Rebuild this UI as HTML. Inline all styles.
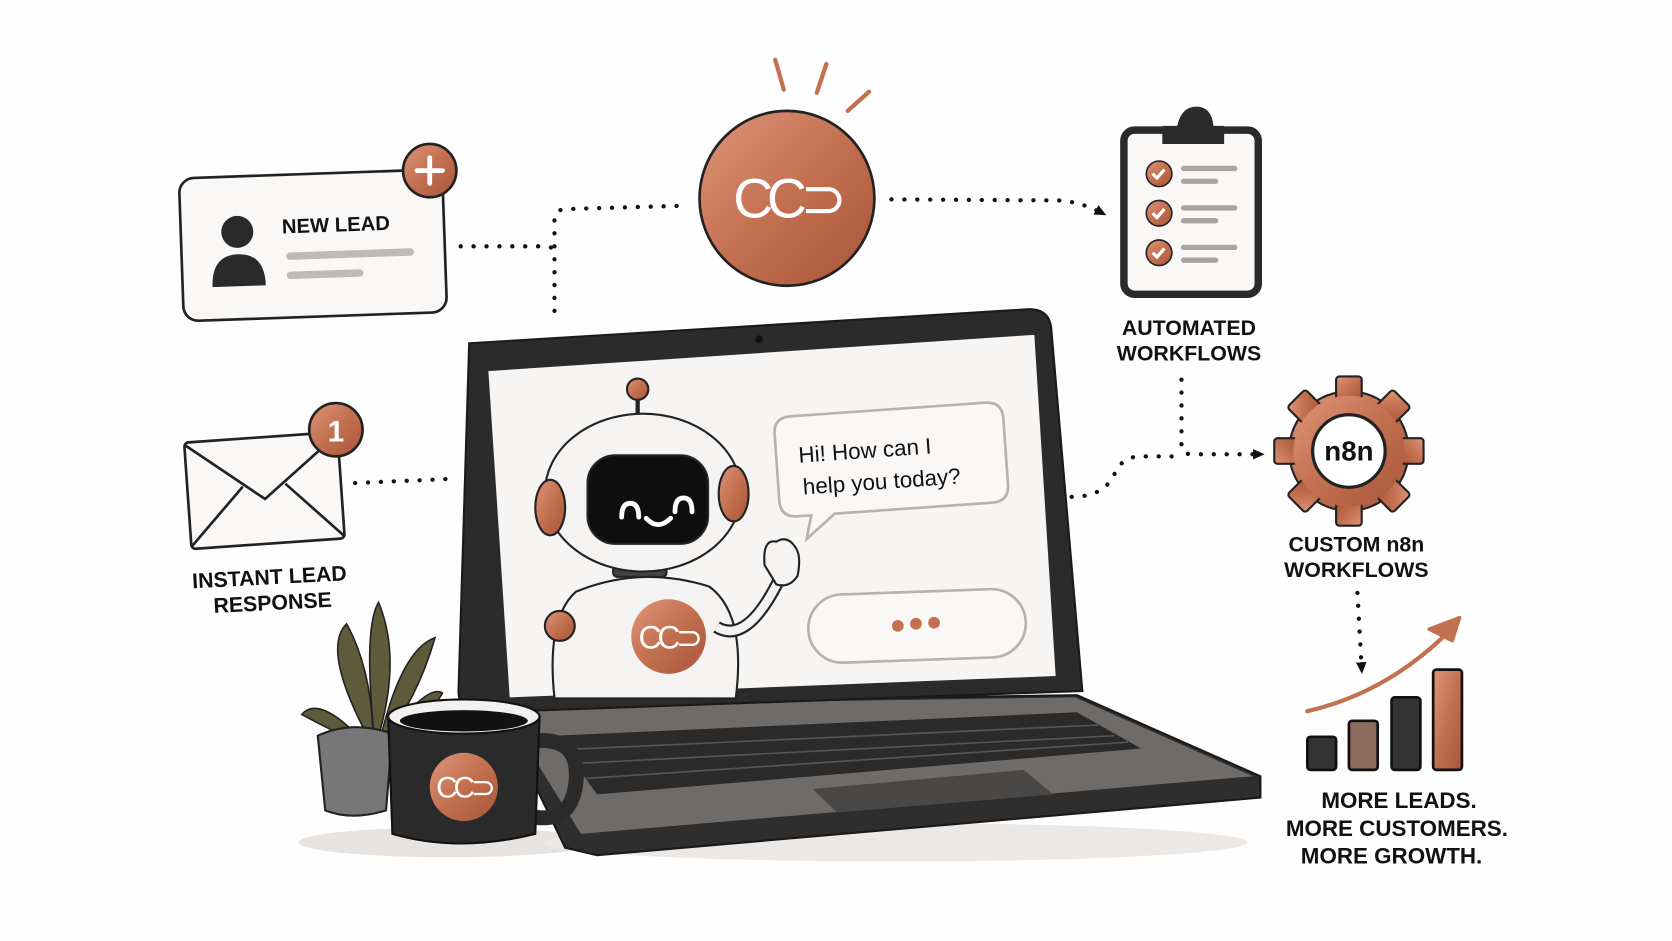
<!DOCTYPE html>
<html><head><meta charset="utf-8"><style>
html,body{margin:0;padding:0;background:#fff;}
svg{display:block;}
text{font-family:"Liberation Sans",sans-serif;}
</style></head><body>
<svg width="1672" height="941" viewBox="0 0 1568 882.5" preserveAspectRatio="none" xmlns="http://www.w3.org/2000/svg">
<defs>
<linearGradient id="cu" x1="0" y1="0" x2="1" y2="1"><stop offset="0" stop-color="#e0957a"/><stop offset="0.5" stop-color="#c2704f"/><stop offset="1" stop-color="#a9553a"/></linearGradient>
<marker id="ah" markerUnits="userSpaceOnUse" markerWidth="14" markerHeight="14" refX="7" refY="7" orient="auto"><path d="M0,2 L11,7 L0,12 Z" fill="#111"/></marker>
</defs>
<rect width="1568" height="883" fill="#fefefe"/>
<ellipse cx="420" cy="790" rx="140" ry="14" fill="#e6e3e1"/>
<ellipse cx="840" cy="790" rx="330" ry="18" fill="#ebe8e6"/>

<g fill="none" stroke="#111" stroke-width="4" stroke-dasharray="0.1 12" stroke-linecap="round">
<path d="M432 231 L512 231 Q520 231 520 240 L520 300"/>
<path d="M520 231 L520 206 Q520 196 532 196 L640 193"/>
<path d="M836 187 L995 188 Q1015 190 1034 200" marker-end="url(#ah)"/>
<path d="M333 453 L426 449"/>
<path d="M1108 356 L1108 418 Q1108 426 1118 426 L1182 426" marker-end="url(#ah)"/>
<path d="M1005 466 Q1035 466 1045 445 Q1052 428 1070 428 L1108 428"/>
<path d="M1273 556 L1277 628" marker-end="url(#ah)"/>
</g>

<g transform="rotate(-2 293 230)">
<rect x="170" y="163" width="247" height="134" rx="14" fill="#faf8f6" stroke="#222" stroke-width="2.5"/>
<circle cx="223" cy="215" r="15" fill="#2a2a2a"/>
<path d="M198 266 Q198 236 223 236 Q248 236 248 266 Z" fill="#2a2a2a"/>
<text x="265" y="218" font-size="19" font-weight="bold" fill="#111">NEW LEAD</text>
<rect x="268" y="236" width="120" height="7" rx="3.5" fill="#bdbab8"/>
<rect x="268" y="254" width="72" height="7" rx="3.5" fill="#bdbab8"/>
</g>
<circle cx="403" cy="160" r="25" fill="url(#cu)" stroke="#222" stroke-width="2.5"/>
<path d="M403 148 V172 M391 160 H415" stroke="#fff" stroke-width="4.5" stroke-linecap="round"/>

<g stroke="#c2704f" stroke-width="4" stroke-linecap="round">
<line x1="727" y1="56" x2="735" y2="84"/><line x1="775" y1="60" x2="766" y2="87"/><line x1="815" y1="86" x2="795" y2="104"/></g>
<circle cx="738" cy="186" r="82" fill="url(#cu)" stroke="#222" stroke-width="2.5"/>
<text x="738" y="204" font-size="52" fill="#fff" text-anchor="middle" letter-spacing="-6">CC⊃</text>

<rect x="1054" y="122" width="126" height="154" rx="10" fill="#faf8f6" stroke="#2a2a2a" stroke-width="7"/>
<path d="M1090 135 V118 H1104 Q1108 100 1122 100 Q1136 100 1138 118 H1148 V135 Z" fill="#2a2a2a"/>
<g fill="url(#cu)" stroke="#222" stroke-width="1.5"><circle cx="1087" cy="163" r="12"/><circle cx="1087" cy="200" r="12"/><circle cx="1087" cy="237" r="12"/></g>
<g fill="none" stroke="#fff" stroke-width="3"><path d="M1081 163 l4 4 l7 -8"/><path d="M1081 200 l4 4 l7 -8"/><path d="M1081 237 l4 4 l7 -8"/></g>
<g stroke="#a8a6a4" stroke-width="5" stroke-linecap="round"><line x1="1110" y1="158" x2="1158" y2="158"/><line x1="1110" y1="170" x2="1140" y2="170"/><line x1="1110" y1="195" x2="1158" y2="195"/><line x1="1110" y1="207" x2="1140" y2="207"/><line x1="1110" y1="232" x2="1158" y2="232"/><line x1="1110" y1="244" x2="1140" y2="244"/></g>
<g font-size="20" font-weight="bold" fill="#111" text-anchor="middle"><text x="1115" y="314">AUTOMATED</text><text x="1115" y="338">WORKFLOWS</text></g>

<g transform="translate(1265 423)">
<g fill="url(#cu)" stroke="#222" stroke-width="2">
<circle r="56"/>
<g id="t"><rect x="-12" y="-70" width="24" height="22" rx="3"/></g>
<use href="#t" transform="rotate(45)"/><use href="#t" transform="rotate(90)"/><use href="#t" transform="rotate(135)"/><use href="#t" transform="rotate(180)"/><use href="#t" transform="rotate(225)"/><use href="#t" transform="rotate(270)"/><use href="#t" transform="rotate(315)"/>
</g>
<circle r="52" fill="url(#cu)"/>
<circle r="34" fill="#fff" stroke="#222" stroke-width="3"/>
<text y="9" font-size="26" font-weight="bold" text-anchor="middle" fill="#111">n8n</text>
</g>
<g font-size="20" font-weight="bold" fill="#111" text-anchor="middle"><text x="1272" y="517">CUSTOM n8n</text><text x="1272" y="541">WORKFLOWS</text></g>

<g stroke="#111" stroke-width="2.5">
<rect x="1226" y="691" width="27" height="31" rx="3" fill="#333"/>
<rect x="1265" y="676" width="27" height="46" rx="3" fill="#8c6a5c"/>
<rect x="1305" y="654" width="27" height="68" rx="3" fill="#333"/>
<rect x="1344" y="628" width="27" height="94" rx="3" fill="url(#cu)"/>
</g>
<path d="M1226 667 Q1300 650 1358 593" fill="none" stroke="#c2704f" stroke-width="4" stroke-linecap="round"/>
<path d="M1369 579 L1340 590 L1362 601 Z" fill="#c2704f" stroke="#c2704f" stroke-width="3" stroke-linejoin="round"/>
<g font-size="21" font-weight="bold" fill="#111" text-anchor="middle"><text x="1312" y="758">MORE LEADS.</text><text x="1310" y="784">MORE CUSTOMERS.</text><text x="1305" y="810">MORE GROWTH.</text></g>

<g transform="rotate(-4 248 460)">
<rect x="176" y="410" width="144" height="100" rx="4" fill="#faf8f6" stroke="#222" stroke-width="2.5"/>
<path d="M176 412 L248 468 L320 412 M176 508 L228 455 M320 508 L268 455" fill="none" stroke="#222" stroke-width="2.5"/>
</g>
<circle cx="315" cy="403" r="25" fill="url(#cu)" stroke="#222" stroke-width="2.5"/>
<text x="315" y="414" font-size="28" fill="#fff" text-anchor="middle" font-weight="bold">1</text>
<g font-size="20" font-weight="bold" fill="#111" text-anchor="middle"><text x="253" y="548" transform="rotate(-3 253 548)">INSTANT LEAD</text><text x="256" y="572" transform="rotate(-3 256 572)">RESPONSE</text></g>

<path d="M465 660 L1010 652 L1182 728 L1182 748 L560 802 L530 795 Z" fill="#2e2e2e" stroke="#1a1a1a" stroke-width="2"/>
<path d="M470 662 L1008 654 L1175 728 L545 782 Z" fill="#6e6b69"/>
<path d="M520 690 L1010 668 L1070 702 L560 745 Z" fill="#2a2a2a"/>
<g stroke="#555" stroke-width="1.5"><line x1="530" y1="703" x2="1030" y2="680"/><line x1="540" y1="716" x2="1045" y2="690"/><line x1="550" y1="730" x2="1058" y2="696"/></g>
<path d="M762 740 L960 722 L988 745 L785 762 Z" fill="#4a4847"/>
<path d="M440 322 L965 290 Q985 290 986 310 L1015 648 L455 668 Q430 668 430 648 Z" fill="#2b2b2b" stroke="#1a1a1a" stroke-width="2"/>
<path d="M458 348 L970 314 L990 634 L478 654 Z" fill="#f7f5f3"/>
<circle cx="712" cy="318" r="3.5" fill="#111"/>

<g transform="rotate(-4 835 440)">
<path d="M745 384 H928 Q944 384 944 400 V462 Q944 478 928 478 H780 L752 500 L758 478 H745 Q729 478 729 462 V400 Q729 384 745 384 Z" fill="#faf8f6" stroke="#b5b2b0" stroke-width="2.5"/>
<text x="750" y="428" font-size="21" fill="#111">Hi! How can I</text>
<text x="752" y="458" font-size="21" fill="#111">help you today?</text>
</g>
<rect x="758" y="555" width="204" height="64" rx="32" fill="#faf8f6" stroke="#b5b2b0" stroke-width="2.5" transform="rotate(-2 860 587)"/>
<g fill="#c2704f"><circle cx="842" cy="587" r="5.5"/><circle cx="859" cy="585" r="5.5"/><circle cx="876" cy="584" r="5.5"/></g>

<g stroke="#222" stroke-width="2">
<path d="M520 655 Q512 580 540 555 Q600 530 665 550 Q700 575 690 655 Z" fill="#f5f3f1"/>
<path d="M672 588 Q700 605 730 545" fill="none" stroke="#222" stroke-width="12"/>
<path d="M672 588 Q700 605 730 545" fill="none" stroke="#f5f3f1" stroke-width="8"/>
<path d="M717 530 Q715 505 728 508 Q738 502 745 512 Q752 520 748 540 Q740 552 728 548 Z" fill="#f5f3f1"/>
<circle cx="525" cy="587" r="14" fill="url(#cu)"/>
<rect x="575" y="531" width="50" height="10" rx="4" fill="#444"/>
<line x1="598" y1="370" x2="598" y2="395" stroke-width="4"/>
<circle cx="598" cy="365" r="10" fill="url(#cu)"/>
<rect x="588" y="392" width="20" height="8" rx="3" fill="#333"/>
<ellipse cx="603" cy="462" rx="92" ry="74" fill="#f5f3f1"/>
<ellipse cx="516" cy="476" rx="14" ry="26" fill="url(#cu)"/>
<ellipse cx="688" cy="463" rx="14" ry="26" fill="url(#cu)"/>
<rect x="551" y="427" width="113" height="83" rx="26" fill="#0e0e0e"/>
</g>
<g fill="none" stroke="#fff" stroke-width="4.5" stroke-linecap="round"><path d="M583 485 Q583 472 591 472 Q599 472 599 485"/><path d="M633 480 Q633 467 641 467 Q649 467 649 480"/><path d="M606 486 Q617 498 629 486"/></g>
<circle cx="627" cy="597" r="35" fill="url(#cu)"/>
<text x="627" y="608" font-size="30" fill="#fff" text-anchor="middle" letter-spacing="-4">CC⊃</text>

<g fill="#5e5a3a" stroke="#222" stroke-width="1.5">
<path d="M345 700 Q300 650 283 670 Q310 685 345 700 Z"/>
<path d="M350 700 Q300 610 325 585 Q350 630 350 700 Z"/>
<path d="M352 700 Q340 590 355 565 Q378 620 352 700 Z"/>
<path d="M355 700 Q375 610 408 598 Q390 660 355 700 Z"/>
<path d="M358 700 Q400 640 415 650 Q395 685 358 700 Z"/>
</g>
<path d="M298 690 Q330 675 368 688 L362 760 Q330 770 305 760 Z" fill="#777" stroke="#222" stroke-width="2"/>
<path d="M500 695 Q545 690 540 735 Q535 775 495 765" fill="none" stroke="#2a2a2a" stroke-width="14"/>
<path d="M364 672 L368 782 Q430 800 502 782 L506 672 Z" fill="#2a2a2a" stroke="#111" stroke-width="2"/>
<ellipse cx="435" cy="672" rx="71" ry="16" fill="#f3f1ef" stroke="#111" stroke-width="2"/>
<ellipse cx="435" cy="676" rx="60" ry="10" fill="#111"/>
<circle cx="435" cy="738" r="32" fill="url(#cu)"/>
<text x="435" y="748" font-size="28" fill="#fff" text-anchor="middle" letter-spacing="-4">CC⊃</text>
</svg>
</body></html>
